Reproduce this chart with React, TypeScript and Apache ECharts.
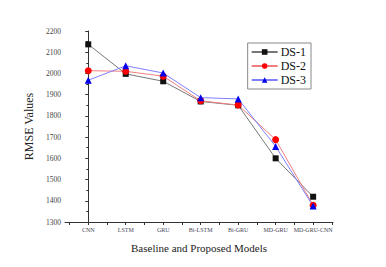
import React, { useEffect, useRef } from "react";
import * as echarts from "echarts";

const categories = ["CNN", "LSTM", "GRU", "Bi-LSTM", "Bi-GRU", "MD-GRU", "MD-GRU-CNN"];
const ds1 = [2137, 1998, 1963, 1868, 1850, 1600, 1419];
const ds2 = [2013, 2010, 1987, 1871, 1851, 1688, 1379];
const ds3 = [1968, 2036, 2002, 1886, 1880, 1656, 1375];
const yTicks = [1300, 1400, 1500, 1600, 1700, 1800, 1900, 2000, 2100, 2200];

const font = "Liberation Serif";

export default function App() {
  const ref = useRef<HTMLDivElement>(null);
  useEffect(() => {
    if (!ref.current) return;
    const chart = echarts.init(ref.current, undefined, { renderer: "svg" });
    const idx = categories.map((_, i) => i);
    const mk = (vals: number[]) => vals.map((v, i) => [idx[i], v]);
    chart.setOption({
      animation: false,
      backgroundColor: "#fff",
      grid: { left: 65, right: 53, top: 31, bottom: 45 },
      legend: {
        right: 75,
        top: 43,
        orient: "vertical",
        itemWidth: 26,
        itemHeight: 7,
        itemGap: 2,
        padding: [3, 5, 3, 3],
        borderColor: "#888",
        borderWidth: 1,
        textStyle: { fontFamily: font, fontSize: 12, color: "#111", padding: [0, 0, 0, -2] },
        data: ["DS-1", "DS-2", "DS-3"],
      },
      xAxis: {
        type: "value",
        min: -0.62,
        max: 6.53,
        name: "Baseline and Proposed Models",
        nameLocation: "middle",
        nameGap: 20,
        nameTextStyle: { fontFamily: font, fontSize: 11, color: "#222" },
        axisLine: { lineStyle: { color: "#333", width: 1 } },
        splitLine: { show: false },
        axisTick: {
          show: true,
          length: 3,
          customValues: [-0.5, 0, 0.5, 1, 1.5, 2, 2.5, 3, 3.5, 4, 4.5, 5, 5.5, 6, 6.5],
          lineStyle: { color: "#333" },
        },
        axisLabel: {
          customValues: idx,
          formatter: (v: number) => categories[Math.round(v)] ?? "",
          fontFamily: font,
          fontSize: 6,
          color: "#445",
          margin: 5,
        },
      },
      yAxis: {
        type: "value",
        min: 1300,
        max: 2200,
        interval: 100,
        name: "RMSE Values",
        nameLocation: "middle",
        nameGap: 27,
        nameTextStyle: { fontFamily: font, fontSize: 12, color: "#222" },
        axisLine: { show: true, lineStyle: { color: "#333", width: 1 } },
        splitLine: { show: false },
        axisTick: { show: true, length: 3, lineStyle: { color: "#333" } },
        minorTick: { show: true, splitNumber: 2, length: 2, lineStyle: { color: "#333" } },
        axisLabel: {
          fontFamily: font,
          fontSize: 7.5,
          color: "#444",
          margin: 4,
          formatter: (v: number) => (yTicks.includes(v) ? String(v) : ""),
        },
      },
      series: [
        {
          name: "DS-1",
          type: "line",
          data: mk(ds1),
          symbol: "rect",
          symbolSize: 6,
          lineStyle: { color: "#777", width: 1 },
          itemStyle: { color: "#111" },
        },
        {
          name: "DS-2",
          type: "line",
          data: mk(ds2),
          symbol: "circle",
          symbolSize: 7,
          lineStyle: { color: "#f08080", width: 1 },
          itemStyle: { color: "#f00" },
        },
        {
          name: "DS-3",
          type: "line",
          data: mk(ds3),
          symbol: "triangle",
          symbolSize: 7,
          lineStyle: { color: "#8080ff", width: 1 },
          itemStyle: { color: "#0000ee" },
        },
      ],
    });
    return () => chart.dispose();
  }, []);
  return (
    <div
      ref={ref}
      style={{ position: "absolute", left: 0, top: 0, width: 386, height: 267, background: "#fff" }}
    />
  );
}
